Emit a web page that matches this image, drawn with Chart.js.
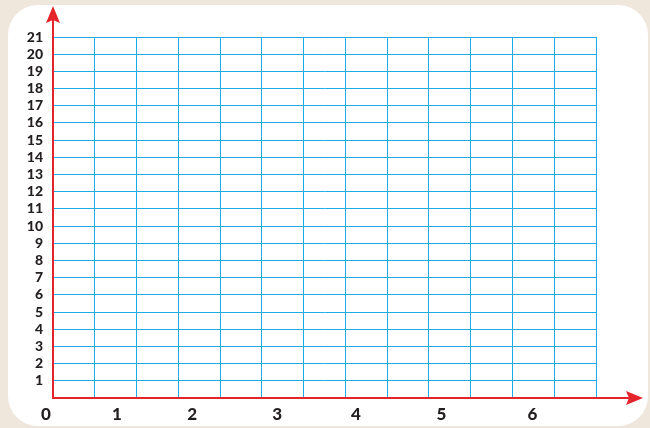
<!DOCTYPE html>
<html>
<head>
  <title>Blank coordinate grid</title>
  <script src="https://cdn.jsdelivr.net/npm/chart.js"></script>
  <style>
    body { margin: 0; background: #efe7dc; }
    #wrap { position: relative; width: 650px; height: 428px; overflow: hidden; }
    #card { position: absolute; left: 8px; top: 5px; width: 640px; height: 421px;
            background: #fff; border-radius: 30px; }
    #myChart { position: absolute; left: 0; top: 0; }
  </style>
</head>
<body>
<div id="wrap">
  <div id="card"></div>
  <canvas id="myChart" width="650" height="428"></canvas>
</div>

<script>
// grid: 13 columns, 21 rows
var gridCols = 13;
var gridRows = 21;
// x labels and where they sit (in grid units)
var xLabels = ['0', '1', '2', '3', '4', '5', '6'];
var xLabelPos = [-0.17, 1.53, 3.33, 5.37, 7.25, 9.3, 11.48];
// y labels 1..21
var yLabels = ['1','2','3','4','5','6','7','8','9','10','11','12','13','14','15','16','17','18','19','20','21'];

var blue = '#1eaae6';
var red = '#e5232b';

// red axes with arrow heads
var arrowAxes = {
  id: 'arrowAxes',
  afterDraw: function(chart) {
    var ctx = chart.ctx;
    var x0 = chart.scales.x.getPixelForValue(0);
    var y0 = chart.scales.y.getPixelForValue(0);
    var topY = 6, rightX = chart.width - 7;
    ctx.save();
    ctx.strokeStyle = red;
    ctx.fillStyle = red;
    ctx.lineWidth = 2;
    ctx.beginPath();
    ctx.moveTo(x0, y0 + 1);
    ctx.lineTo(x0, topY + 10);
    ctx.moveTo(x0 - 1, y0);
    ctx.lineTo(rightX - 10, y0);
    ctx.stroke();
    // up arrow
    ctx.beginPath();
    ctx.moveTo(x0, topY);
    ctx.lineTo(x0 + 7, topY + 17);
    ctx.lineTo(x0, topY + 14);
    ctx.lineTo(x0 - 7, topY + 17);
    ctx.closePath();
    ctx.fill();
    // right arrow
    ctx.beginPath();
    ctx.moveTo(rightX, y0);
    ctx.lineTo(rightX - 17, y0 - 7);
    ctx.lineTo(rightX - 14, y0);
    ctx.lineTo(rightX - 17, y0 + 7);
    ctx.closePath();
    ctx.fill();
    ctx.restore();
  }
};

var ctx = document.getElementById('myChart').getContext('2d');
var chart = new Chart(ctx, {
  type: 'scatter',
  data: { datasets: [{ data: [] }] },
  options: {
    responsive: false,
    animation: false,
    layout: { padding: { top: 37, right: 54, left: 0, bottom: 0 } },
    plugins: { legend: { display: false }, tooltip: { enabled: false } },
    scales: {
      x: {
        type: 'linear',
        min: 0,
        max: gridCols,
        afterBuildTicks: function(scale) {
          var ticks = [];
          for (var i = 0; i <= gridCols; i++) ticks.push({ value: i });
          xLabelPos.forEach(function(p) { ticks.push({ value: p }); });
          scale.ticks = ticks;
        },
        afterFit: function(scale) { scale.height = 30; },
        border: { display: false },
        grid: {
          drawTicks: false,
          lineWidth: 1,
          color: function(c) {
            return Number.isInteger(c.tick.value) ? blue : 'rgba(0,0,0,0)';
          }
        },
        ticks: {
          autoSkip: false,
          maxRotation: 0,
          padding: 6,
          color: '#231f20',
          font: { family: 'Lato', weight: '900', size: 17 },
          callback: function(v) {
            var k = xLabelPos.indexOf(v);
            return k >= 0 ? xLabels[k] : '';
          }
        }
      },
      y: {
        min: 0,
        max: gridRows,
        afterFit: function(scale) { scale.width = 53; },
        border: { display: false },
        grid: { drawTicks: false, color: blue, lineWidth: 1 },
        ticks: {
          stepSize: 1,
          autoSkip: false,
          padding: 10,
          color: '#231f20',
          font: { family: 'Lato', weight: '900', size: 14 },
          callback: function(v) { return v >= 1 ? yLabels[v - 1] : ''; }
        }
      }
    }
  },
  plugins: [arrowAxes]
});
</script>
</body>
</html>
